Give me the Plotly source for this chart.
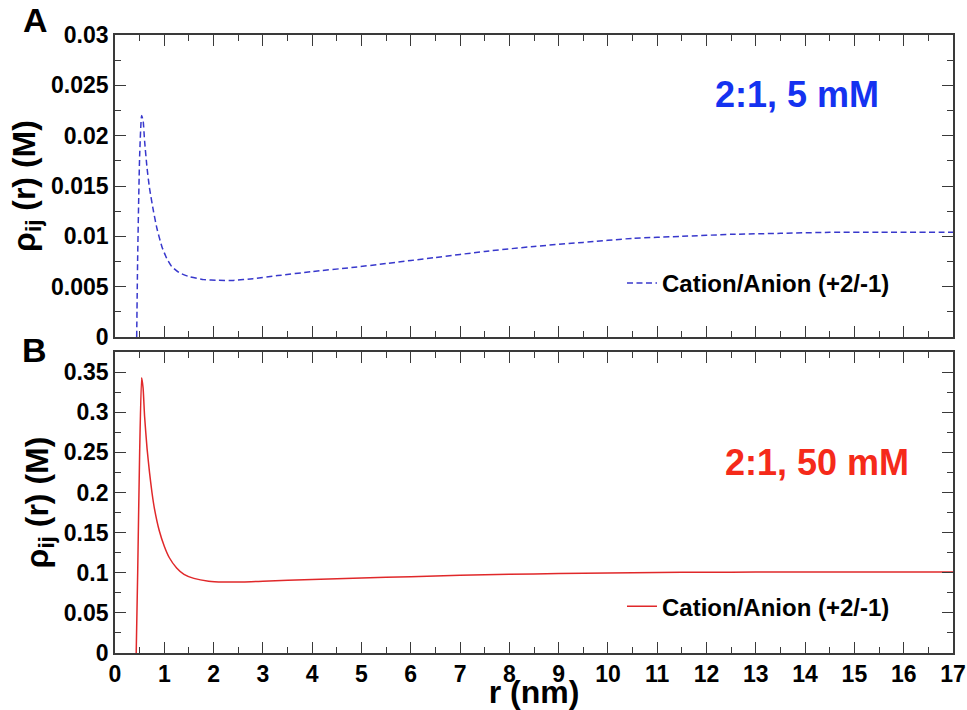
import plotly.graph_objects as go

# ---- data ----
r_A = [0.44, 0.46, 0.50, 0.54, 0.57, 0.60, 0.65, 0.70, 0.78, 0.85, 0.95, 1.05, 1.15, 1.30, 1.50,
       1.80, 2.10, 2.40, 2.80, 3.30, 4.00, 4.80, 5.50, 6.50, 7.50, 8.50, 9.50, 10.5, 11.5, 12.5,
       13.5, 14.5, 15.5, 17.0]
rho_A = [0.0, 0.008, 0.018, 0.022, 0.0215, 0.0195, 0.0168, 0.0148, 0.0125, 0.0108, 0.0090, 0.0078,
         0.0070, 0.0064, 0.0060, 0.0057, 0.00563, 0.00562, 0.0058, 0.0061, 0.0065, 0.0069, 0.0073,
         0.0079, 0.0085, 0.0090, 0.0094, 0.0098, 0.0100, 0.0102, 0.0103, 0.0104, 0.0104, 0.0104]

r_B = [0.43, 0.46, 0.50, 0.54, 0.57, 0.60, 0.65, 0.70, 0.75, 0.80, 0.90, 1.00, 1.10, 1.25, 1.40,
       1.60, 1.90, 2.20, 2.60, 3.00, 4.00, 5.00, 6.00, 7.00, 8.00, 9.00, 10.0, 11.0, 12.0, 13.0,
       14.0, 17.0]
rho_B = [0.0, 0.10, 0.25, 0.343, 0.33, 0.295, 0.255, 0.225, 0.200, 0.180, 0.152, 0.133, 0.119,
         0.106, 0.098, 0.093, 0.0895, 0.0885, 0.0885, 0.0895, 0.0915, 0.0935, 0.0950, 0.0970,
         0.0980, 0.0990, 0.0998, 0.1003, 0.1007, 0.1008, 0.1009, 0.1010]

series_name = "Cation/Anion (+2/-1)"
label_A = "2:1, 5 mM"
label_B = "2:1, 50 mM"

x_tickvals = list(range(0, 18))
x_ticktext = [str(v) for v in x_tickvals]
x_minorvals = [i + 0.5 for i in range(0, 17)]
yA_tickvals = [0, 0.005, 0.01, 0.015, 0.02, 0.025, 0.03]
yA_ticktext = ["0", "0.005", "0.01", "0.015", "0.02", "0.025", "0.03"]
yA_minorvals = [0.0025, 0.0075, 0.0125, 0.0175, 0.0225, 0.0275]
yB_tickvals = [0, 0.05, 0.1, 0.15, 0.2, 0.25, 0.3, 0.35]
yB_ticktext = ["0", "0.05", "0.1", "0.15", "0.2", "0.25", "0.3", "0.35"]
yB_minorvals = [0.025, 0.075, 0.125, 0.175, 0.225, 0.275, 0.325, 0.375]

FONT = "Liberation Sans"
AXCOL = "#3a3a3a"
X_RANGE = [0, 17]
YA_RANGE = [0, 0.03]
YB_RANGE = [0, 0.375]
DOM_A = [0.5113, 1]
DOM_B = [0, 0.487]

fig = go.Figure()
fig.add_trace(go.Scatter(x=r_A, y=rho_A, mode="lines", name=series_name,
                         line=dict(color="#3838cc", width=1.5, dash="6px,3.5px",
                                   shape="spline", smoothing=0.5),
                         xaxis="x", yaxis="y", legend="legend"))
fig.add_trace(go.Scatter(x=r_B, y=rho_B, mode="lines", name=series_name,
                         line=dict(color="#e0282a", width=1.5, shape="spline", smoothing=0.5),
                         xaxis="x2", yaxis="y2", legend="legend2"))
# transparent carriers for the twin subplots that carry the top/right minor ticks
fig.add_trace(go.Scatter(x=r_A, y=rho_A, mode="lines", opacity=0, xaxis="x3", yaxis="y3",
                         showlegend=False, hoverinfo="skip", line=dict(width=0.1)))
fig.add_trace(go.Scatter(x=r_B, y=rho_B, mode="lines", opacity=0, xaxis="x4", yaxis="y4",
                         showlegend=False, hoverinfo="skip", line=dict(width=0.1)))

tickfont = dict(family=FONT, size=23, color="black", weight="bold")
minor_cfg = dict(ticks="inside", ticklen=6, tickwidth=1.3, tickcolor=AXCOL)
common_x = dict(range=X_RANGE, tickvals=x_tickvals, ticktext=x_ticktext, ticks="inside",
                ticklen=11, tickwidth=1.4, tickcolor=AXCOL, showline=True, linecolor=AXCOL,
                linewidth=1.7, mirror="ticks", showgrid=False, zeroline=False,
                tickfont=tickfont, minor=dict(minor_cfg, tickvals=x_minorvals))
common_y = dict(ticks="inside", ticklen=11, tickwidth=1.4, tickcolor=AXCOL, showline=True,
                linecolor=AXCOL, linewidth=1.7, mirror="ticks", showgrid=False, zeroline=False,
                tickfont=tickfont)
twin_common = dict(type="linear", tickmode="array", ticks="inside", ticklen=6, tickwidth=1.3,
                   tickcolor=AXCOL, showline=False, showgrid=False, zeroline=False,
                   showticklabels=False, fixedrange=True)

title_font = dict(family=FONT, size=32, color="black", weight="bold")

fig.update_layout(
    width=967, height=710,
    margin=dict(l=115, r=14, t=35, b=57, autoexpand=False),
    plot_bgcolor="rgba(0,0,0,0)", paper_bgcolor="white",
    xaxis=dict(common_x, domain=[0, 1], anchor="y", showticklabels=False),
    yaxis=dict(common_y, domain=DOM_A, anchor="x", range=YA_RANGE,
               tickvals=yA_tickvals, ticktext=yA_ticktext,
               minor=dict(minor_cfg, tickvals=yA_minorvals),
               title=dict(text="ρ<sub>ij</sub> (r) (M)", font=title_font, standoff=6)),
    xaxis2=dict(common_x, domain=[0, 1], anchor="y2",
                title=dict(text="r (nm)", font=title_font, standoff=10)),
    yaxis2=dict(common_y, domain=DOM_B, anchor="x2", range=YB_RANGE,
                tickvals=yB_tickvals, ticktext=yB_ticktext,
                minor=dict(minor_cfg, tickvals=yB_minorvals),
                title=dict(text="ρ<sub>ij</sub> (r) (M)", font=title_font, standoff=6)),
    # twin axes on the top / right edges for the mirrored minor ticks
    xaxis3=dict(twin_common, domain=[0, 1], anchor="y3", side="top", range=X_RANGE,
                tickvals=x_minorvals),
    yaxis3=dict(twin_common, domain=DOM_A, anchor="x3", side="right", range=YA_RANGE,
                tickvals=yA_minorvals),
    xaxis4=dict(twin_common, domain=[0, 1], anchor="y4", side="top", range=X_RANGE,
                tickvals=x_minorvals),
    yaxis4=dict(twin_common, domain=DOM_B, anchor="x4", side="right", range=YB_RANGE,
                tickvals=yB_minorvals),
    legend=dict(x=0.605, y=0.598, xanchor="left", yanchor="middle", bgcolor="rgba(0,0,0,0)",
                font=dict(family=FONT, size=24, color="black", weight="bold"), itemwidth=30),
    legend2=dict(x=0.605, y=0.075, xanchor="left", yanchor="middle", bgcolor="rgba(0,0,0,0)",
                 font=dict(family=FONT, size=24, color="black", weight="bold"), itemwidth=30),
    showlegend=True,
    annotations=[
        dict(text=label_A, xref="paper", yref="paper", x=0.814, y=0.9045, showarrow=False,
             xanchor="center", yanchor="middle",
             font=dict(family=FONT, size=36, color="#1432f0", weight="bold")),
        dict(text=label_B, xref="paper", yref="paper", x=0.838, y=0.309, showarrow=False,
             xanchor="center", yanchor="middle",
             font=dict(family=FONT, size=36, color="#f52a1a", weight="bold")),
        dict(text="A", xref="paper", yref="paper", x=-0.0943, y=1.024, showarrow=False,
             xanchor="center", yanchor="middle",
             font=dict(family=FONT, size=34, color="black", weight="bold")),
        dict(text="B", xref="paper", yref="paper", x=-0.0965, y=0.490, showarrow=False,
             xanchor="center", yanchor="middle",
             font=dict(family=FONT, size=34, color="black", weight="bold")),
    ],
)

fig.write_html("out.html")
